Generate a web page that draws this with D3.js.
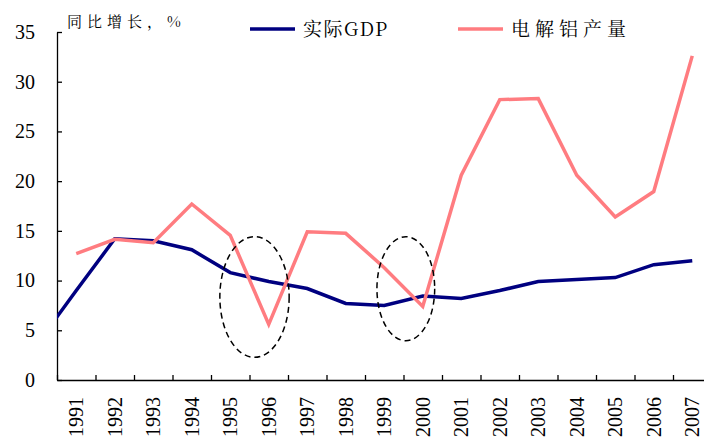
<!DOCTYPE html>
<html>
<head>
<meta charset="utf-8">
<script src="https://cdn.jsdelivr.net/npm/d3@7"></script>
<style>
  body { margin: 0; background: #fff; }
</style>
</head>
<body>
<div class="chart"></div>
<script>
// years on the x axis
const years = [1991, 1992, 1993, 1994, 1995, 1996, 1997, 1998, 1999, 2000,
  2001, 2002, 2003, 2004, 2005, 2006, 2007];

// real GDP growth, % (1990 point sits left of the axis and is clipped)
const gdpYears = [1990, ...years];
const gdpGrowth = [3.7, 9.0, 14.2, 14.0, 13.1, 10.8, 9.9, 9.2, 7.7, 7.5, 8.45,
  8.2, 9.0, 9.9, 10.1, 10.3, 11.6, 12.0];

// electrolytic aluminium output growth, %
const aluminium = [12.7, 14.15, 13.8, 17.7, 14.55, 5.6, 14.9, 14.75, 11.3, 7.4,
  20.6, 28.2, 28.3, 20.6, 16.4, 18.95, 32.6];

const yTicks = [0, 5, 10, 15, 20, 25, 30, 35];

// dashed ellipses: centre (year, value), radii in years / value units
const highlights = [
  { year: 1995.63, value: 8.35, rYear: 0.9, rValue: 6.07 },
  { year: 1999.56, value: 9.18, rYear: 0.75, rValue: 5.23 }
];

const numFont = "'Liberation Serif', 'Times New Roman', serif";
const cjkFont = "'Noto Serif CJK SC', 'Noto Sans CJK SC', serif";

const width = 704, height = 438;
const plotLeft = 57, plotBottom = 380, plotTop = 32;

const svg = d3.select('.chart').append('svg')
  .attr('width', width)
  .attr('height', height);

const x = d3.scaleLinear()
  .domain([1990.5, 2007.5])
  .range([plotLeft, plotLeft + 17 * 38.5]);

const y = d3.scaleLinear()
  .domain([0, 35])
  .range([plotBottom, plotTop]);

svg.append('defs').append('clipPath')
  .attr('id', 'plot')
  .append('rect')
  .attr('x', plotLeft).attr('y', 0)
  .attr('width', width - plotLeft).attr('height', height);

// y axis, ticks pointing inward
const yAxis = svg.append('g')
  .attr('transform', `translate(${plotLeft},0)`)
  .call(d3.axisLeft(y).tickValues(yTicks).tickSizeInner(-5).tickSizeOuter(0).tickPadding(22));
yAxis.selectAll('text')
  .style('font-family', numFont)
  .style('font-size', '20px')
  .attr('fill', '#000');

// x axis, ticks between years
const xAxis = svg.append('g')
  .attr('transform', `translate(0,${plotBottom})`)
  .call(d3.axisBottom(x)
    .tickValues(d3.range(1990.5, 2008, 1))
    .tickSizeInner(-5).tickSizeOuter(0).tickFormat(''));

[yAxis, xAxis].forEach(g => {
  g.selectAll('path, line').attr('stroke', '#000').attr('stroke-width', 1.3);
});

// rotated year labels
svg.append('g').selectAll('text')
  .data(years)
  .join('text')
  .attr('transform', d => `translate(${x(d)},397) rotate(-90)`)
  .attr('text-anchor', 'end')
  .attr('dy', '0.36em')
  .style('font-family', numFont)
  .style('font-size', '20px')
  .text(d => d);

const line = d3.line()
  .x(d => x(d[0]))
  .y(d => y(d[1]));

const plot = svg.append('g').attr('clip-path', 'url(#plot)');

plot.append('path')
  .datum(gdpYears.map((yr, i) => [yr, gdpGrowth[i]]))
  .attr('d', line)
  .attr('fill', 'none')
  .attr('stroke', '#000080')
  .attr('stroke-width', 3.5);

plot.append('path')
  .datum(years.map((yr, i) => [yr, aluminium[i]]))
  .attr('d', line)
  .attr('fill', 'none')
  .attr('stroke', '#FF7C80')
  .attr('stroke-width', 3.5);

svg.append('g').selectAll('ellipse')
  .data(highlights)
  .join('ellipse')
  .attr('cx', d => x(d.year))
  .attr('cy', d => y(d.value))
  .attr('rx', d => x(d.year + d.rYear) - x(d.year))
  .attr('ry', d => y(d.value - d.rValue) - y(d.value))
  .attr('fill', 'none')
  .attr('stroke', '#000')
  .attr('stroke-width', 1.5)
  .attr('stroke-dasharray', '6,4');

// axis title
svg.append('text')
  .attr('x', 67).attr('y', 27)
  .style('font-family', cjkFont)
  .style('font-size', '15px')
  .style('letter-spacing', '5px')
  .text('同比增长，%');

// legend
const legend = [
  { name: '实际GDP', color: '#000080', x: 250, spacing: '1.5px' },
  { name: '电解铝产量', color: '#FF7C80', x: 458, spacing: '5px' }
];
const lg = svg.append('g').selectAll('g')
  .data(legend)
  .join('g')
  .attr('transform', d => `translate(${d.x},29)`);
lg.append('line')
  .attr('x1', 0).attr('x2', 45)
  .attr('stroke', d => d.color)
  .attr('stroke-width', 3.5);
lg.append('text')
  .attr('x', 53).attr('y', 7)
  .style('font-family', cjkFont)
  .style('font-size', '19px')
  .style('letter-spacing', d => d.spacing)
  .text(d => d.name);
</script>
</body>
</html>
